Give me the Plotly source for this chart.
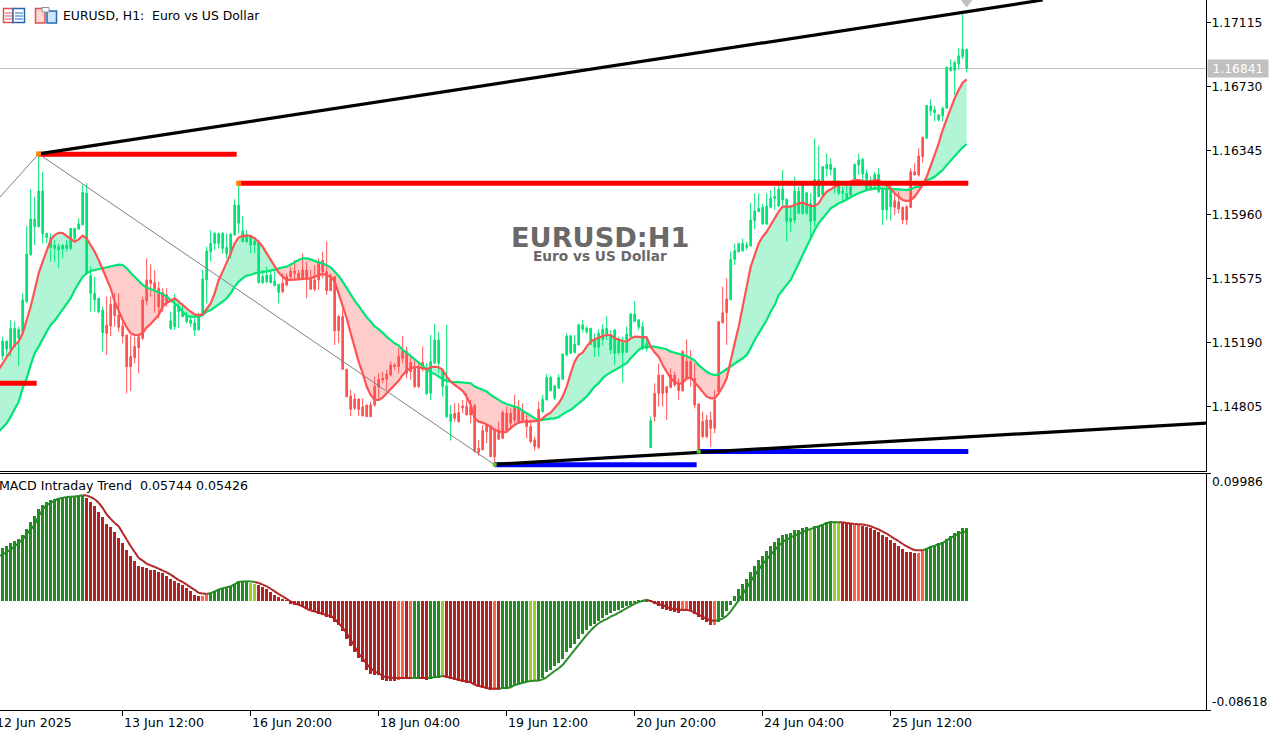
import plotly.graph_objects as go

# prices are in points (1e-5), MACD values in 1e-4
high_pts = [115228,115202,115328,115318,115288,115489,115894,116114,116070,116325,
116220,115849,115849,115809,115789,115779,115809,115879,115879,115940,
116140,116150,115649,115589,115459,115408,115469,115469,115489,115489,
115328,115238,115238,115228,115228,115469,115699,115663,115629,115559,
115519,115519,115378,115485,115449,115428,115378,115358,115348,115372,
115629,115769,115869,115859,115849,115859,115849,115849,116054,116140,
115954,115869,115839,115819,115799,115629,115649,115629,115629,115543,
115609,115609,115649,115689,115629,115729,115679,115629,115659,115699,
115740,115800,115609,115589,115359,115399,115032,114908,114888,114857,
114857,114817,114837,114988,115008,115018,115028,115078,115068,115158,
115232,115168,115108,115088,115078,115168,115068,115238,115305,115258,
115038,115299,114817,114827,114827,114847,114888,114847,114827,114607,
114697,114707,114697,114677,114717,114787,114807,114797,114878,114847,
114827,114757,114727,114627,114837,114878,115004,114994,114938,115002,
115124,115248,115238,115238,115305,115329,115289,115279,115248,115273,
115303,115353,115268,115273,115228,115228,115289,115369,115443,115333,
115318,115228,114747,114947,115067,114997,114927,115037,115017,114977,
115148,115212,115148,115067,114827,114777,114757,114777,114907,115318,
115529,115579,115739,115789,115789,115819,115799,116034,116090,116090,
116026,116090,116110,116130,116140,116230,116060,116020,116190,116130,
116140,116100,116090,116421,116375,116254,116331,116301,116246,116170,
116130,116140,116140,116270,116327,116301,116234,116190,116220,116240,
116120,116140,116140,116090,116100,116010,116020,116240,116270,116361,
116431,116618,116656,116616,116568,116612,116853,116897,116889,116963,
117177,116957]

low_pts = [115088,115108,115108,115168,115052,115258,115429,115719,115779,115889,
115789,115789,115679,115679,115639,115699,115739,115749,115799,115869,
115900,115609,115378,115378,115368,115138,115118,115232,115288,115258,
115188,114887,114901,115068,115007,115208,115418,115469,115372,115338,
115378,115408,115268,115268,115278,115348,115308,115288,115234,115268,
115358,115428,115679,115749,115759,115729,115699,115699,115839,115849,
115799,115789,115729,115729,115549,115545,115549,115549,115529,115428,
115489,115529,115579,115569,115569,115569,115459,115509,115499,115509,
115579,115479,115505,115178,115188,115028,114867,114751,114787,114751,
114751,114747,114747,114807,114857,114948,114908,114988,115028,115008,
115068,114978,114968,114918,114918,115018,114878,114847,115068,115008,
114867,114737,114603,114717,114711,114767,114757,114707,114531,114511,
114547,114587,114507,114457,114607,114611,114647,114677,114707,114707,
114707,114617,114587,114543,114551,114771,114847,114898,114847,114918,
114968,115108,115128,115128,115178,115252,115244,115178,115104,115108,
115178,115208,115124,115058,115118,114952,115134,115224,115319,115268,
115148,115138,114560,114717,114807,114807,114727,114917,114927,114847,
114897,114967,114927,114797,114550,114617,114617,114566,114647,114897,
115308,115178,115449,115659,115733,115739,115749,115773,115873,115980,
115900,115900,116000,115990,116010,116010,115799,115859,115910,115970,
115960,115960,115819,115889,116070,116074,116190,116200,116090,116080,
116040,116060,116070,116140,116200,116160,116110,116110,116110,116090,
115900,115930,115926,115960,115970,115904,115900,116000,116200,116190,
116275,116416,116556,116522,116522,116522,116602,116823,116682,116832,
116897,116817]

open_pts = [115112,115152,115148,115168,115218,115258,115439,115719,115889,115889,
115845,115825,115765,115759,115749,115755,115759,115759,115819,115875,
115900,115609,115489,115449,115378,115252,115298,115422,115429,115358,
115292,115238,115108,115168,115228,115449,115569,115569,115553,115519,
115493,115479,115278,115288,115378,115348,115318,115308,115268,115268,
115358,115569,115739,115789,115789,115759,115725,115725,115839,115910,
115799,115799,115779,115779,115553,115553,115559,115553,115535,115495,
115549,115589,115623,115623,115609,115629,115629,115575,115569,115679,
115686,115619,115593,115589,115349,115349,115032,114871,114853,114853,
114807,114817,114817,114928,114972,114978,115004,115058,115058,115108,
115144,115138,115072,115048,115048,115072,114884,114888,115068,115068,
114928,114747,114717,114767,114771,114811,114811,114807,114813,114557,
114663,114697,114687,114667,114667,114771,114767,114767,114803,114797,
114777,114727,114687,114607,114791,114777,114847,114904,114857,114918,
114972,115118,115128,115132,115178,115273,115258,115182,115164,115164,
115212,115232,115148,115128,115132,115132,115134,115228,115319,115285,
115157,115157,114560,114887,114997,114997,114927,114997,114997,114947,
115138,115078,115078,114977,114823,114717,114727,114727,114847,115318,
115372,115454,115449,115693,115739,115745,115765,115773,115926,115980,
115906,115906,116006,116060,116014,116050,115920,115920,115930,115970,
115970,115970,115920,115924,116070,116080,116240,116234,116140,116090,
116090,116060,116080,116140,116260,116206,116114,116120,116160,116100,
115990,115990,116010,116046,116040,116006,116010,116220,116220,116315,
116427,116422,116586,116576,116532,116556,116602,116829,116829,116869,
116913,116841]

close_pts = [115202,115202,115278,115278,115272,115449,115725,115936,115936,116104,
116104,115849,115825,115779,115769,115779,115779,115879,115879,115906,
116096,116092,115595,115489,115459,115388,115248,115292,115354,115284,
115232,115047,115047,115102,115162,115218,115444,115549,115513,115408,
115408,115439,115324,115418,115408,115378,115348,115328,115312,115358,
115575,115743,115789,115849,115849,115849,115765,115845,116020,116020,
115863,115829,115833,115803,115799,115589,115599,115599,115563,115543,
115499,115539,115589,115609,115575,115575,115575,115513,115513,115569,
115619,115505,115505,115264,115264,115032,114867,114791,114797,114791,
114751,114747,114747,114817,114924,114968,114972,114998,115048,115048,
115098,115008,115018,114928,114928,115044,115038,115078,115208,115208,
115028,114932,114761,114737,114717,114801,114757,114757,114537,114531,
114547,114657,114507,114507,114611,114617,114667,114707,114727,114707,
114727,114687,114597,114567,114563,114851,114982,114982,114932,114982,
115124,115232,115232,115182,115299,115299,115279,115279,115208,115248,
115273,115277,115242,115268,115198,115192,115244,115365,115365,115329,
115288,115188,114723,114747,114887,114887,114891,114923,114937,114903,
114903,114977,114977,114817,114550,114627,114627,114677,114677,114897,
115312,115372,115693,115745,115789,115789,115779,115930,115984,116000,
116006,116014,116060,116070,116114,116114,116054,115940,116104,116104,
116140,116094,116030,116174,116174,116250,116264,116264,116240,116140,
116104,116090,116130,116264,116291,116295,116210,116170,116204,116204,
116114,116114,116114,116006,115996,115930,115930,116006,116200,116200,
116311,116618,116616,116592,116562,116602,116849,116847,116877,116917,
116957,116957]

# moving averages start one bar before the first candle (bar -1)
fast_pts = [115030,115067,115108,115148,115178,115198,115248,115328,115408,115509,115609,
115679,115749,115809,115839,115853,115851,115833,115813,115799,115813,
115835,115819,115779,115739,115689,115629,115569,115519,115439,115378,
115328,115284,115248,115238,115238,115248,115284,115304,115328,115358,
115408,115432,115444,115459,115439,115418,115398,115378,115362,115358,
115362,115398,115428,115489,115569,115619,115669,115729,115789,115825,
115833,115837,115833,115819,115799,115769,115729,115689,115649,115613,
115589,115569,115569,115569,115573,115575,115575,115579,115589,115599,
115605,115599,115589,115559,115489,115419,115339,115248,115158,115078,
115008,114928,114878,114847,114847,114861,114888,114912,114932,114962,
114998,115024,115038,115044,115044,115040,115032,115044,115048,115044,
115028,114988,114958,114938,114918,114902,114867,114817,114737,114717,
114711,114701,114687,114667,114657,114651,114657,114677,114697,114711,
114717,114717,114717,114717,114721,114737,114757,114771,114797,114827,
114867,114928,115008,115078,115118,115132,115168,115198,115212,115224,
115232,115238,115238,115218,115208,115202,115198,115218,115228,115228,
115228,115224,115168,115132,115108,115057,115017,114977,114953,114943,
114951,114977,114983,114953,114921,114897,114867,114857,114857,114887,
114927,114977,115088,115188,115288,115408,115529,115649,115719,115789,
115829,115859,115900,115940,115980,116010,116010,116010,116020,116030,
116034,116026,116014,116014,116030,116070,116100,116114,116130,116140,
116150,116154,116160,116170,116170,116164,116160,116160,116170,116170,
116150,116140,116120,116090,116070,116050,116044,116050,116070,116104,
116140,116190,116250,116321,116390,116471,116536,116602,116662,116712,
116756,116776]

slow_pts = [114657,114679,114707,114747,114797,114837,114917,114977,115057,115128,115168,
115218,115258,115298,115324,115358,115392,115428,115459,115509,115549,
115589,115609,115623,115629,115635,115639,115645,115653,115659,115661,
115659,115639,115613,115589,115565,115539,115523,115513,115503,115493,
115485,115469,115449,115428,115408,115378,115352,115348,115348,115348,
115358,115378,115388,115404,115418,115439,115459,115489,115529,115559,
115579,115595,115599,115609,115613,115615,115621,115625,115633,115639,
115645,115649,115663,115673,115689,115699,115699,115693,115683,115675,
115669,115659,115645,115619,115593,115559,115519,115479,115445,115413,
115379,115345,115319,115289,115273,115248,115228,115208,115188,115174,
115148,115132,115112,115092,115068,115048,115032,115012,115004,114988,
114972,114962,114956,114954,114954,114952,114952,114948,114928,114918,
114908,114898,114878,114863,114847,114833,114823,114813,114807,114801,
114781,114767,114751,114737,114723,114727,114733,114735,114737,114745,
114761,114777,114787,114807,114827,114843,114867,114898,114928,114948,
114978,114998,115012,115028,115038,115052,115068,115098,115124,115148,
115164,115168,115168,115168,115164,115158,115152,115138,115132,115124,
115118,115112,115098,115084,115057,115037,115017,115003,114997,115001,
115017,115031,115052,115068,115084,115098,115118,115158,115208,115248,
115288,115328,115378,115418,115479,115509,115539,115569,115619,115669,
115719,115769,115829,115869,115910,115940,115970,116000,116014,116030,
116040,116054,116070,116080,116090,116100,116110,116114,116120,116120,
116120,116120,116120,116116,116114,116110,116110,116114,116126,116130,
116150,116170,116176,116190,116210,116230,116260,116287,116315,116341,
116367,116387]

hist_e4 = [418,434,452,471,487,518,565,623,671,723,
755,781,794,802,810,815,818,818,821,823,
828,807,781,750,702,658,605,579,539,497,
452,400,352,313,276,266,260,247,242,229,
216,197,171,158,145,124,103,79,50,39,
39,50,63,79,97,105,105,116,137,155,
155,155,145,137,124,108,92,71,50,29,
13,3,-21,-29,-34,-47,-60,-74,-87,-100,
-108,-126,-134,-166,-192,-237,-302,-358,-402,-450,
-481,-542,-573,-586,-586,-621,-626,-626,-626,-621,
-613,-613,-613,-605,-605,-613,-621,-613,-608,-605,
-594,-605,-613,-621,-631,-639,-642,-647,-665,-679,
-684,-692,-700,-700,-700,-692,-692,-673,-660,-655,
-647,-634,-631,-626,-626,-605,-560,-542,-515,-489,
-455,-402,-368,-337,-297,-263,-231,-200,-179,-158,
-132,-113,-95,-79,-68,-53,-39,-29,-16,-8,
-3,-3,-8,-21,-42,-66,-74,-79,-87,-95,
-82,-82,-79,-105,-126,-153,-166,-192,-192,-166,
-126,-82,-29,37,92,132,176,226,274,321,
352,392,431,460,492,518,526,534,558,555,
571,581,568,589,586,602,621,629,629,615,
615,615,610,600,600,589,581,571,558,542,
518,500,476,455,429,408,384,384,376,376,
389,413,429,439,452,460,487,510,534,550,
571,574.4]

signal_e4 = [347,
360,381,400,426,452,479,523,558,597,663,
715,750,768,786,800,807,813,815,818,821,
828,826,813,797,768,729,676,642,610,584,
531,479,426,381,334,313,289,276,263,250,
234,221,203,181,160,145,124,103,84,58,
55,50,58,71,84,97,103,110,129,145,
150,150,150,145,137,124,110,92,71,50,
32,13,-8,-24,-34,-47,-66,-79,-87,-95,
-105,-118,-121,-145,-179,-213,-258,-310,-363,-416,
-455,-500,-534,-560,-573,-594,-605,-608,-610,-610,
-610,-610,-610,-610,-610,-610,-610,-608,-605,-600,
-594,-600,-608,-615,-626,-631,-636,-644,-663,-673,
-679,-689,-694,-694,-694,-689,-689,-684,-665,-658,
-647,-639,-634,-631,-631,-621,-605,-579,-555,-534,
-508,-468,-429,-389,-350,-310,-271,-237,-205,-179,
-160,-147,-126,-113,-95,-79,-60,-42,-26,-13,
-3,5,-5,-16,-32,-34,-53,-63,-68,-74,
-74,-74,-82,-95,-113,-129,-145,-158,-160,-155,
-142,-121,-87,-42,0,50,97,150,197,242,
287,321,360,395,431,460,479,497,510,523,
537,552,563,573,584,594,610,615,615,615,
615,610,605,602,600,597,592,584,571,558,
542,526,505,484,466,444,426,410,395,395,
395,405,421,431,442,452,473,492,510,526,
537,542.6]

# histogram colour state, run by run: g rising, y rising pale, r falling, t falling pale
state_runs = [("g",21),("r",29),("t",2),("g",10),("y",2),("r",35),("t",2),("r",1),("t",1),
("g",2),("r",2),("g",3),("y",1),("r",12),("t",1),("r",1),("g",7),("y",2),("g",28),
("r",8),("t",2),("r",6),("t",1),("g",23),("y",1),("g",5),("y",2),("r",3),("t",2),
("r",14),("t",2),("g",11)]

price_ticks = [1.14805,1.15190,1.15575,1.15960,1.16345,1.16730,1.17115]
macd_ticks = [-0.08618,0.09986]
last_price = 1.16841
time_tick_bars = [-2,30,62,94,126,158,190,222]
time_tick_labels = ["12 Jun 2025","13 Jun 12:00","16 Jun 20:00","18 Jun 04:00",
                    "19 Jun 12:00","20 Jun 20:00","24 Jun 04:00","25 Jun 12:00"]

# analysis objects: bars and price levels
upper_trend_x, upper_trend_p = [9,260], [1.16327,1.17253]
lower_trend_x, lower_trend_p = [123,302], [1.14460,1.14710]
zigzag_x, zigzag_p = [-1,9,123], [1.16059,1.16327,1.14457]
red_levels = [(-1,8.5,1.14948),(9,58.5,1.16325),(59,241.4,1.16151)]
blue_levels = [(123,173.5,1.14458),(174,241.4,1.14537)]
swing_high_x, swing_high_p = [9,59], [1.16327,1.16151]
swing_low_x, swing_low_p = [123,174], [1.14458,1.14537]

GREEN, RED = "#00E676", "#FF5252"
PALE_G, PALE_R = "#B2F5D6", "#FFCCCC"
FONT = "DejaVu Sans"
W_PLOT, H_PLOT = 1206.0, 710.0
XR = [-0.6675, 300.83]
P_RANGE = [1.14420, 1.17253]

xp = lambda x: x / W_PLOT
yp = lambda y: 1 - y / H_PLOT

N = len(high_pts)
assert all(len(a) == N for a in (low_pts, open_pts, close_pts, hist_e4)), "len"
assert len(fast_pts) == N + 1 and len(slow_pts) == N + 1 and len(signal_e4) == N + 1
bars = list(range(N))
ma_x = list(range(-1, N))
P = lambda a: [v / 1e5 for v in a]
fast, slow = P(fast_pts), P(slow_pts)
hist = [v / 1e4 for v in hist_e4]
signal = [v / 1e4 for v in signal_e4]
state = [s for s, n in state_runs for _ in range(n)]
assert len(state) == N
HCOL = {"g": "#228B22", "r": "#B22222", "t": "#FF6347", "y": "#9ACD32"}

fig = go.Figure()
shapes = []

# cloud between the two averages (shapes lie below the candles)
def cloud_paths():
    run = []
    sign = None
    out = []
    for k, x in enumerate(ma_x):
        s = fast[k] >= slow[k]
        if sign is None:
            sign = s
        if s != sign:
            d0 = fast[k-1] - slow[k-1]
            d1 = fast[k] - slow[k]
            t = d0 / (d0 - d1)
            cx = ma_x[k-1] + t
            cy = fast[k-1] + t * (fast[k] - fast[k-1])
            run.append((cx, cy, cy))
            out.append((sign, run))
            run = [(cx, cy, cy)]
            sign = s
        run.append((x, fast[k], slow[k]))
    out.append((sign, run))
    return out

for up, run in cloud_paths():
    pts = [(r[0], r[1]) for r in run] + [(r[0], r[2]) for r in reversed(run)]
    path = "M " + " L ".join(f"{a:.3f},{b:.5f}" for a, b in pts) + " Z"
    shapes.append(dict(type="path", path=path, xref="x", yref="y", layer="below",
                       fillcolor=PALE_G if up else PALE_R, line=dict(width=0)))

shapes.append(dict(type="line", xref="paper", yref="y", x0=0, x1=1, y0=last_price, y1=last_price,
                   layer="below", line=dict(color="#C0C0C0", width=1)))

fig.add_trace(go.Candlestick(x=bars, open=P(open_pts), high=P(high_pts), low=P(low_pts), close=P(close_pts),
    whiskerwidth=0, xaxis="x", yaxis="y",
    increasing=dict(line=dict(color=GREEN, width=1), fillcolor=GREEN),
    decreasing=dict(line=dict(color=RED, width=1), fillcolor=RED)))

def line(x, y, color, width, xa="x", ya="y"):
    fig.add_trace(go.Scatter(x=x, y=y, mode="lines", xaxis=xa, yaxis=ya,
                             line=dict(color=color, width=width)))

line(zigzag_x, zigzag_p, "#808080", 1)
line(ma_x, slow, GREEN, 2.2)
line(ma_x, fast, RED, 2.2)
for a, b, p in red_levels:
    line([a, b], [p, p], "#FF0000", 5)
for a, b, p in blue_levels:
    line([a, b], [p, p], "#0000FF", 5)
line(upper_trend_x, upper_trend_p, "#000000", 3.2)
line(lower_trend_x, lower_trend_p, "#000000", 3.2)

fig.add_trace(go.Scatter(x=swing_high_x, y=swing_high_p, mode="markers",
    marker=dict(symbol="square", size=5, color="#FF8000"), xaxis="x", yaxis="y"))
fig.add_trace(go.Scatter(x=swing_low_x, y=swing_low_p, mode="markers",
    marker=dict(symbol="square", size=4, color="#55CC22"), xaxis="x", yaxis="y"))
fig.add_trace(go.Scatter(x=[N-1], y=[P_RANGE[1]], mode="markers",
    marker=dict(symbol="triangle-down", size=15, color="#C0C0C0"), xaxis="x", yaxis="y"))

# MACD panel
fig.add_trace(go.Bar(x=bars, y=hist, width=0.75, xaxis="x2", yaxis="y2",
                     marker=dict(color=[HCOL[s] for s in state], line=dict(width=0))))
sx = {"g": [], "r": []}
sy = {"g": [], "r": []}
for k in range(len(signal) - 1):
    st = state[k]
    key = "g" if st in ("g", "y") else "r"
    sx[key] += [ma_x[k], ma_x[k+1], None]
    sy[key] += [signal[k], signal[k+1], None]
line(sx["g"], sy["g"], "#228B22", 2, "x2", "y2")
line(sx["r"], sy["r"], "#B22222", 2, "x2", "y2")

# toolbar icons
def rect(x0, y0, x1, y1, line_c, fill="rgba(0,0,0,0)", w=1):
    shapes.append(dict(type="rect", xref="paper", yref="paper", x0=xp(x0), x1=xp(x1), y0=yp(y0), y1=yp(y1),
                       line=dict(color=line_c, width=w), fillcolor=fill))
rect(3.5, 8.5, 13, 22.5, "#E05050", "#FFFFFF", 1.5)
rect(13, 8.5, 24.5, 22.5, "#2468B0", "#FFFFFF", 1.5)
for yy in (12.5, 15.5, 18.5):
    rect(5, yy, 12, yy + 1, "#E05050", "#E05050", 0)
    rect(15, yy, 23, yy + 1, "#2468B0", "#2468B0", 0)
rect(35.5, 8.5, 45, 23, "#E05050", "#FFD8D0", 1.5)
rect(47, 11, 56.5, 23, "#2468B0", "#CFE4F8", 1.5)
rect(42, 7.5, 49, 12, "#909090", "#FFFFFF", 1)

ann = []
def text(x, y, s, size=12, color="#000000", anchor="left", bold=False, family=FONT):
    ann.append(dict(x=xp(x), y=yp(y), xref="paper", yref="paper", text=f"<b>{s}</b>" if bold else s,
                    showarrow=False, xanchor=anchor, yanchor="middle", borderpad=0,
                    font=dict(family=family, size=size, color=color)))

text(62, 16, "EURUSD, H1:\u00a0\u00a0Euro vs US Dollar", 12.4)
text(-2, 485.5, "MACD Intraday Trend\u00a0\u00a00.05744 0.05426", 12.6)
text(599.5, 237, "EURUSD:H1", 27.2, "#696969", "center", True)
text(600, 256, "Euro vs US Dollar", 13.7, "#696969", "center", True)
text(1210.5, 482, f"{macd_ticks[1]:.5f}", 12.3)
text(1210.5, 702, f"{macd_ticks[0]:.5f}", 12.3)
for b, lab in zip(time_tick_bars, time_tick_labels):
    text(2.67 + 4 * b + 0.8, 722, lab, 12.6)
ann.append(dict(x=xp(1238), y=last_price, xref="paper", yref="y", text=f"{last_price:.5f}", showarrow=False,
                xanchor="center", yanchor="middle", width=60, height=17, bgcolor="#C0C0C0", borderpad=0,
                align="center", valign="middle",
                font=dict(family=FONT, size=12.3, color="#FFFFFF")))

fig.update_layout(
    width=1282, height=730, autosize=False, showlegend=False,
    margin=dict(l=0, r=76, t=0, b=20, pad=0),
    paper_bgcolor="#FFFFFF", plot_bgcolor="#FFFFFF",
    boxgap=0.4, bargap=0, hovermode=False,
    shapes=shapes, annotations=ann,
    xaxis=dict(domain=[0, 1], range=XR, anchor="y", showgrid=False, zeroline=False, showline=True,
               linecolor="#000000", linewidth=1, ticks="", showticklabels=False,
               rangeslider=dict(visible=False)),
    yaxis=dict(domain=[yp(471), 1], range=P_RANGE, anchor="x", side="right", showgrid=False, zeroline=False,
               showline=True, linecolor="#000000", linewidth=1, ticks="outside", ticklen=4, tickcolor="#000000",
               tickmode="array", tickvals=price_ticks, ticktext=[f"{v:.5f}" for v in price_ticks],
               ticklabelstandoff=-2,
               tickfont=dict(family=FONT, size=12.3, color="#000000")),
    xaxis2=dict(domain=[0, 1], range=XR, anchor="y2", showgrid=False, zeroline=False, showline=True,
                mirror=True, linecolor="#000000", linewidth=1, ticks="outside", ticklen=5, tickcolor="#000000",
                tickmode="array", tickvals=time_tick_bars, showticklabels=False),
    yaxis2=dict(domain=[0, yp(473.5)], range=[macd_ticks[0], macd_ticks[1]], anchor="x2", side="right",
                showgrid=False, zeroline=False, showline=True, linecolor="#000000", linewidth=1,
                ticks="outside", ticklen=4, tickcolor="#000000", tickmode="array", tickvals=macd_ticks,
                showticklabels=False),
)

fig.write_html("out.html", config=dict(displayModeBar=False),
               post_script="document.body.style.margin='0';document.body.style.overflow='hidden';")
